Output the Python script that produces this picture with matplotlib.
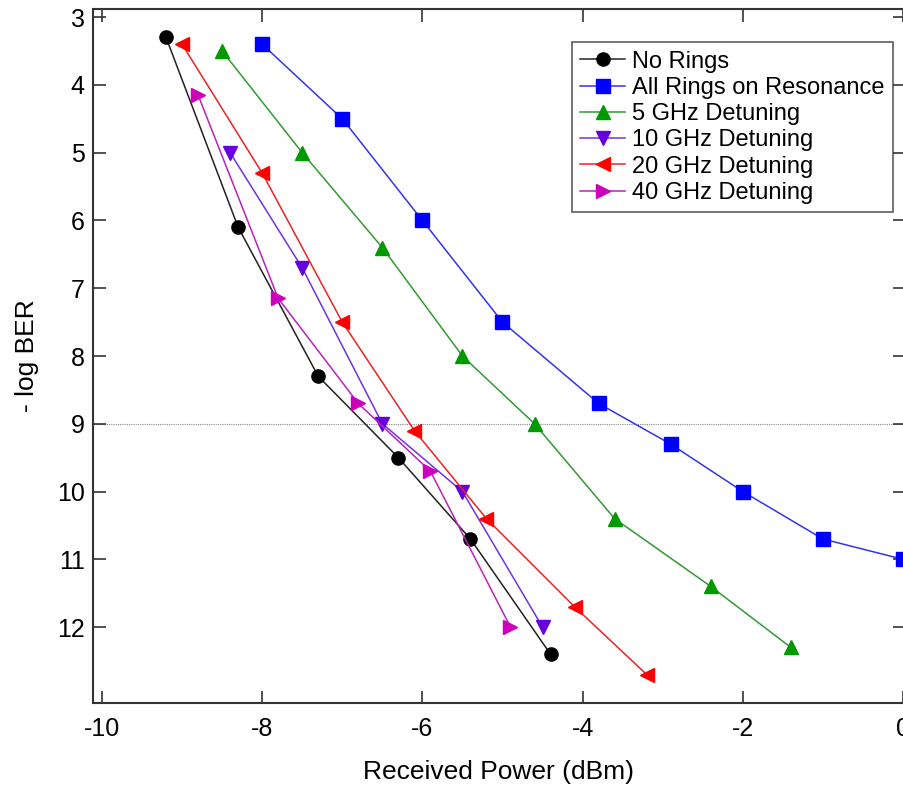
import matplotlib.pyplot as plt

plt.rcParams["font.family"] = ["Liberation Sans", "DejaVu Sans"]
plt.rcParams["axes.unicode_minus"] = False

# received power (dBm) and -log BER for each case
no_rings_x = [-9.2, -8.3, -7.3, -6.3, -5.4, -4.4]
no_rings_y = [3.3, 6.1, 8.3, 9.5, 10.7, 12.4]

all_rings_x = [-8.0, -7.0, -6.0, -5.0, -3.8, -2.9, -2.0, -1.0, 0.0]
all_rings_y = [3.4, 4.5, 6.0, 7.5, 8.7, 9.3, 10.0, 10.7, 11.0]

det5_x = [-8.5, -7.5, -6.5, -5.5, -4.6, -3.6, -2.4, -1.4]
det5_y = [3.5, 5.0, 6.4, 8.0, 9.0, 10.4, 11.4, 12.3]

det10_x = [-8.4, -7.5, -6.5, -5.5, -4.5]
det10_y = [5.0, 6.7, 9.0, 10.0, 12.0]

det20_x = [-9.0, -8.0, -7.0, -6.1, -5.2, -4.1, -3.2]
det20_y = [3.4, 5.3, 7.5, 9.1, 10.4, 11.7, 12.7]

det40_x = [-8.8, -7.8, -6.8, -5.9, -4.9]
det40_y = [4.15, 7.15, 8.7, 9.7, 12.0]

series = [
    (no_rings_x, no_rings_y, "No Rings", "#222222", "black", "o"),
    (all_rings_x, all_rings_y, "All Rings on Resonance", "#3333ee", "#0000ff", "s"),
    (det5_x, det5_y, "5 GHz Detuning", "#339933", "#009900", "^"),
    (det10_x, det10_y, "10 GHz Detuning", "#7033e0", "#6600dd", "v"),
    (det20_x, det20_y, "20 GHz Detuning", "#ee2222", "#ff0000", "<"),
    (det40_x, det40_y, "40 GHz Detuning", "#bb22bb", "#cc00bb", ">"),
]

fig = plt.figure(figsize=(9.04, 7.88), dpi=100)
ax = fig.add_axes([93 / 904, 85 / 788, 812 / 904, 694 / 788])

ax.axhline(9, color="#888888", lw=0.8, ls=(0, (1, 1)), zorder=1)

for x, y, label, lc, mc, m in series:
    ax.plot(x, y, color=lc, lw=1.1, marker=m, ms=9.5, mfc=mc, mec=mc,
            label=label, zorder=3)

ax.set_xlim(-10.112, 0.025)
ax.set_ylim(13.12, 2.88)
ax.set_xticks([-10, -8, -6, -4, -2, 0])
ax.set_yticks(range(3, 13))

ax.tick_params(direction="in", length=9, width=1.2, labelsize=18,
               top=True, right=True, color="#333333")
ax.tick_params(axis="x", pad=10)
ax.tick_params(axis="y", pad=6)
for s in ax.spines.values():
    s.set_linewidth(1.5)
    s.set_color("#333333")

ax.set_xlabel("Received Power (dBm)", fontsize=19, labelpad=14)
ax.set_ylabel("- log BER", fontsize=19, labelpad=13)

leg = ax.legend(loc="upper right", bbox_to_anchor=(0.985, 0.952), fontsize=17,
                frameon=True, fancybox=False, edgecolor="#333333",
                handlelength=1.9, handletextpad=0.3, borderpad=0.35,
                labelspacing=0.18, borderaxespad=0)
leg.get_frame().set_linewidth(1.2)

fig.savefig("out.png", dpi=100)
